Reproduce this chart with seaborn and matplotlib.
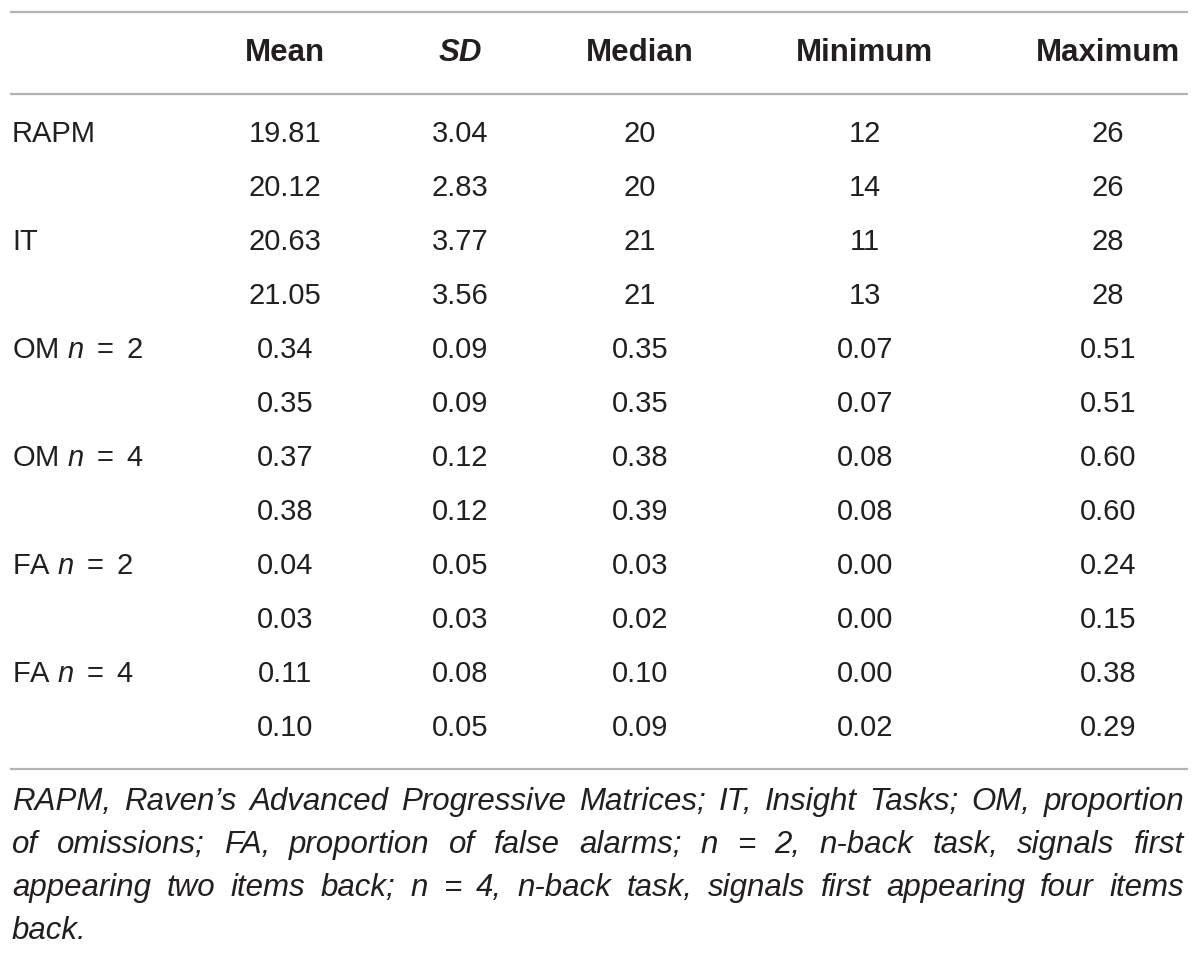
import matplotlib
matplotlib.use('Agg')
import matplotlib.pyplot as plt
import seaborn as sns

sns.set_theme(style='white')
plt.rcParams['font.family'] = ['Liberation Sans', 'DejaVu Sans']
plt.rcParams['mathtext.fontset'] = 'custom'
plt.rcParams['mathtext.it'] = 'Liberation Sans:italic'
plt.rcParams['mathtext.rm'] = 'Liberation Sans'

# table content
columns = ['Mean', 'SD', 'Median', 'Minimum', 'Maximum']
row_labels = ['RAPM', '', 'IT', '', r'OM $n\ =\ 2$', '', r'OM $n\ =\ 4$', '',
              r'FA $n\ =\ 2$', '', r'FA $n\ =\ 4$', '']
mean = ['19.81', '20.12', '20.63', '21.05', '0.34', '0.35', '0.37', '0.38',
        '0.04', '0.03', '0.11', '0.10']
sd = ['3.04', '2.83', '3.77', '3.56', '0.09', '0.09', '0.12', '0.12',
      '0.05', '0.03', '0.08', '0.05']
median = ['20', '20', '21', '21', '0.35', '0.35', '0.38', '0.39',
          '0.03', '0.02', '0.10', '0.09']
minimum = ['12', '14', '11', '13', '0.07', '0.07', '0.08', '0.08',
           '0.00', '0.00', '0.00', '0.02']
maximum = ['26', '26', '28', '28', '0.51', '0.51', '0.60', '0.60',
           '0.24', '0.15', '0.38', '0.29']
footnote = [
    'RAPM, Raven\u2019s Advanced Progressive Matrices; IT, Insight Tasks; OM, proportion',
    'of omissions; FA, proportion of false alarms; n = 2, n-back task, signals first',
    'appearing two items back; n = 4, n-back task, signals first appearing four items',
    'back.',
]

# layout (pixels)
col_x = [285, 460, 640, 865, 1108]
header_y = 53
row_y0, row_step = 134, 54
rules = [13, 95, 770]
foot_y0, foot_step = 802, 43
text_color = '#231f20'
fs = 21
fs_head = 22.5
fs_foot = 22.5

fig = plt.figure(figsize=(12, 9.54), dpi=100)
ax = fig.add_axes([0, 0, 1, 1])
ax.set_xlim(0, 1200)
ax.set_ylim(954, 0)
ax.axis('off')

for y in rules:
    ax.plot([10, 1188], [y, y], color='#b3b3b3', lw=1.6, solid_capstyle='butt')

for x, c in zip(col_x, columns):
    ax.text(x, header_y, c, ha='center', va='center', fontsize=fs_head,
            fontweight='bold', style='italic' if c == 'SD' else 'normal',
            color=text_color)

cols = [mean, sd, median, minimum, maximum]
for i, lab in enumerate(row_labels):
    y = row_y0 + i * row_step
    if lab:
        ax.text(12, y, lab, ha='left', va='center', fontsize=fs, color=text_color)
    for x, col in zip(col_x, cols):
        ax.text(x, y, col[i], ha='center', va='center', fontsize=fs, color=text_color)

# justified footnote
renderer = fig.canvas.get_renderer()
x0, x1 = 12, 1184
for k, line in enumerate(footnote):
    y = foot_y0 + k * foot_step
    words = line.split(' ')
    objs = [ax.text(0, y, w, ha='left', va='center', fontsize=fs_foot, style='italic',
                    color=text_color) for w in words]
    widths = [o.get_window_extent(renderer).width for o in objs]
    if k == len(footnote) - 1 or len(words) == 1:
        gap = renderer.points_to_pixels(fs_foot) * 0.28
    else:
        gap = (x1 - x0 - sum(widths)) / (len(words) - 1)
    x = x0
    for o, w in zip(objs, widths):
        o.set_x(x)
        x += w + gap

fig.savefig('out.png', dpi=100)
